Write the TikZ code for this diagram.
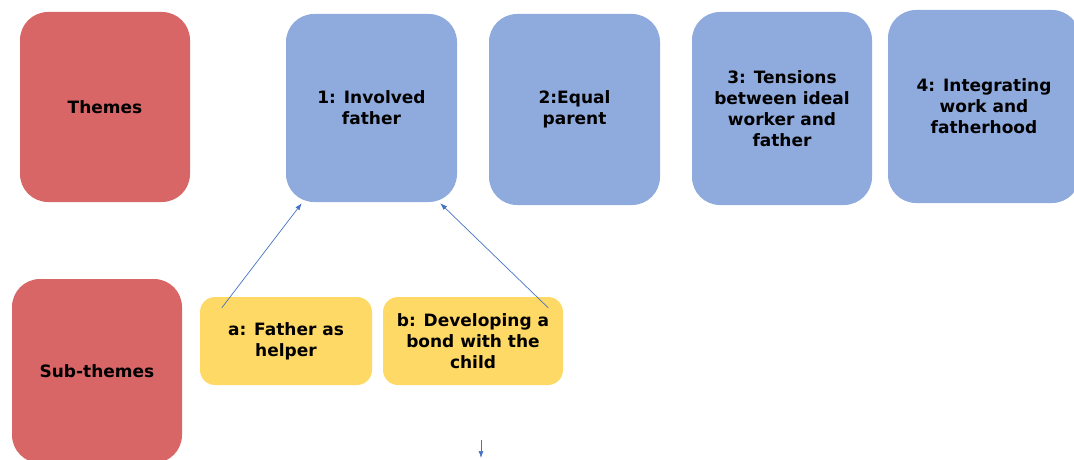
\documentclass[tikz,border=0pt]{standalone}
\usepackage{fontspec}
\setmainfont{DejaVu Sans}
\usetikzlibrary{calc,arrows.meta}
\definecolor{themered}{HTML}{D86666}
\definecolor{themeblue}{HTML}{8FAADC}
\definecolor{subyellow}{HTML}{FFD966}
\definecolor{arrowblue}{HTML}{4472C4}
\begin{document}
\begin{tikzpicture}[x=1pt,y=1pt,
  card/.style={inner sep=0pt, align=center, text=black,
    font=\fontsize{17}{21}\selectfont\bfseries},
  redcard/.style={card, fill=themered, rounded corners=28pt},
  bluecard/.style={card, fill=themeblue, rounded corners=28pt},
  yellowcard/.style={card, fill=subyellow, rounded corners=15pt},
  link/.style={draw=arrowblue, line width=0.7pt, -{Latex[length=7pt,width=5pt]}}]
\useasboundingbox (0,0) rectangle (1074,459);
\clip (0,0) rectangle (1074,459);
\node[redcard, minimum width=170pt, minimum height=190pt] (themes) at (105,352) {Themes};
\node[bluecard, minimum width=171pt, minimum height=188pt] (t1) at (371.5,351) {1: Involved\\father};
\node[bluecard, minimum width=171pt, minimum height=191pt] (t2) at (574.5,349.5) {2:Equal\\parent};
\node[bluecard, minimum width=180pt, minimum height=193pt] (t3) at (782,350.5) {3: Tensions\\between ideal\\worker and\\father};
\node[bluecard, minimum width=192pt, minimum height=193pt] (t4) at (984,352.5) {4: Integrating\\work and\\fatherhood};
\node[redcard, minimum width=170pt, minimum height=184pt] (sub) at (97,88) {Sub-themes};
\node[yellowcard, minimum width=172pt, minimum height=88pt] (sa) at (286,118) {a: Father as\\helper};
\node[yellowcard, minimum width=180pt, minimum height=88pt] (sb) at (473,118) {b: Developing a\\bond with the\\child};
\draw[link] ($(sa.north west)+(22,-11)$) -- ($(t1.south west)+(16,-1)$);
\draw[link] ($(sb.north east)+(-15,-11)$) -- ($(t1.south east)+(-17,-1)$);
\coordinate (downstart) at (481,19);
\coordinate (downend) at (481,1);
\draw[link] (downstart) -- (downend);
\end{tikzpicture}
\end{document}
